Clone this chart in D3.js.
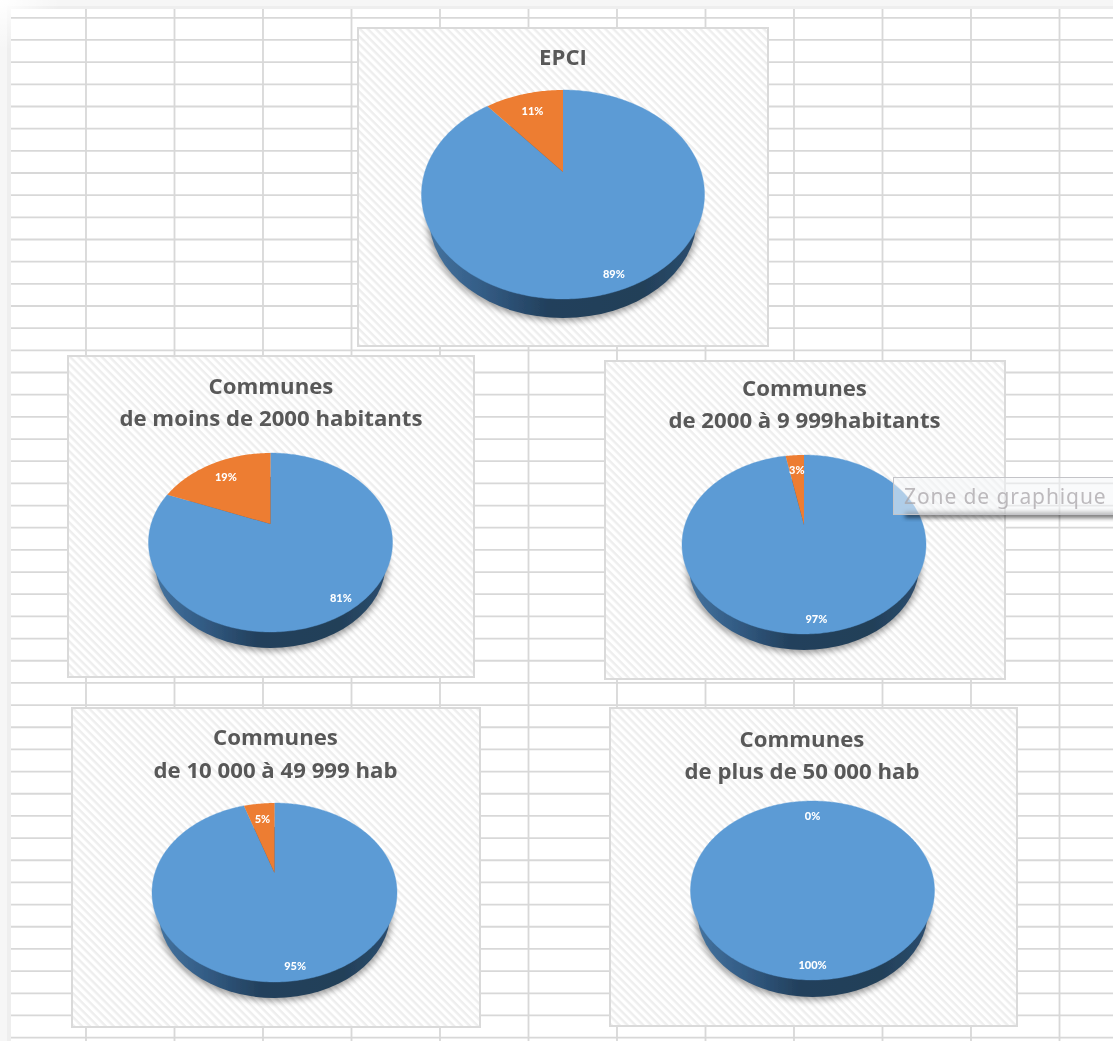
<!DOCTYPE html>
<html><head><meta charset="utf-8">
<style>html,body{margin:0;padding:0;background:#fff}svg{display:block}</style>
<script src="https://cdn.jsdelivr.net/npm/d3@7/dist/d3.min.js"></script>
</head><body><svg id="c" width="1113" height="1041"></svg>
<script>
// ---- data ----
const titles = [["EPCI"],["Communes","de moins de 2000 habitants"],["Communes","de 2000 à 9 999habitants"],["Communes","de 10 000 à 49 999 hab"],["Communes","de plus de 50 000 hab"]];
const blueValues = [89,81,97,95,100];
const orangeValues = [11,19,3,5,0];
const sliceColors = ["#5b9bd5","#ed7d31"];
// ---- layout (box x0,x1,y0,y1; pie cx,rx,top,bottom,apex,depth; title x, baselines) ----
const boxes = [[358,768,28,346],[68,474,356,677],[605,1005,361,679],[72,480,708,1027],[610,1017,708,1026]];
const pies = [[563,141.5,90,299,172,19],[270.5,122,453,632,524,16],[804,122,455,634,525,16],[274.5,122.5,803,982,873,16],[812.5,122,801,980,871,17]];
const titleX = [563,271,804.5,275.5,802];
const titleY = [[65],[393.5,425.5],[395.5,427.5],[744.5,778],[746.5,779]];
const gridColN = 12, gridRowN = 47;

const W=1113,H=1041;
const svg=d3.select("#c");
const defs=svg.append("defs");
const pat=defs.append("pattern").attr("id","hatch").attr("patternUnits","userSpaceOnUse")
  .attr("width",5.6).attr("height",5.6).attr("patternTransform","rotate(45)");
pat.append("rect").attr("width",5.6).attr("height",5.6).attr("fill","#ffffff");
pat.append("rect").attr("width",5.6).attr("height",2.4).attr("fill","#eeeeee");
const wall=defs.append("linearGradient").attr("id","wall");
[[0,"#44739f"],[0.2,"#335c85"],[0.45,"#223f5b"],[0.8,"#234059"],[1,"#2b4d6f"]].forEach(s=>wall.append("stop").attr("offset",s[0]).attr("stop-color",s[1]));
defs.append("filter").attr("id","sh").attr("x","-20%").attr("y","-20%").attr("width","140%").attr("height","140%")
  .append("feGaussianBlur").attr("stdDeviation",3);
defs.append("filter").attr("id","soft").attr("x","0").attr("y","0").attr("width","100%").attr("height","100%")
  .append("feGaussianBlur").attr("stdDeviation",0.6);
defs.append("filter").attr("id","tipsh").attr("x","-5%").attr("y","-60%").attr("width","110%").attr("height","220%")
  .append("feGaussianBlur").attr("stdDeviation",2);
const corner=defs.append("radialGradient").attr("id","corner").attr("cx",0).attr("cy",0).attr("r",1);
corner.append("stop").attr("offset",0).attr("stop-color","#fff");
corner.append("stop").attr("offset",1).attr("stop-color","#fff").attr("stop-opacity",0);

const root=svg.append("g").attr("filter","url(#soft)");
// window chrome
root.append("rect").attr("width",W).attr("height",H).attr("fill","#f6f6f6");
root.append("rect").attr("x",7).attr("y",6).attr("width",W).attr("height",H).attr("fill","#eeeeee");
root.append("rect").attr("x",11).attr("y",9).attr("width",W).attr("height",H).attr("fill","#ffffff");
root.append("rect").attr("width",60).attr("height",50).attr("fill","url(#corner)");

// spreadsheet grid
const xGrid=d3.scaleLinear().domain([0,1]).range([86,174.5]);
const yGrid=d3.scaleLinear().domain([0,1]).range([17.8,39.97]);
const grid=root.append("g").attr("stroke","#d8d8d8").attr("stroke-width",1.8);
grid.selectAll("line.v").data(d3.range(gridColN)).join("line").attr("class","v")
  .attr("x1",d=>xGrid(d)).attr("x2",d=>xGrid(d)).attr("y1",9).attr("y2",H);
grid.selectAll("line.h").data(d3.range(gridRowN)).join("line").attr("class","h")
  .attr("x1",11).attr("x2",W).attr("y1",d=>yGrid(d)).attr("y2",d=>yGrid(d));

const pieGen=d3.pie().sort(null).value(d=>d);
titles.forEach((t,i)=>{
  const b=boxes[i],[cx,rx,top,bottom,apex,depth]=pies[i];
  const g=root.append("g");
  g.append("rect").attr("x",b[0]).attr("y",b[2]).attr("width",b[1]-b[0]).attr("height",b[3]-b[2])
    .attr("fill","url(#hatch)").attr("stroke","#dadada").attr("stroke-width",2);
  g.selectAll("text.t").data(t).join("text").attr("class","t")
    .attr("x",titleX[i]).attr("y",(d,j)=>titleY[i][j]).attr("text-anchor","middle")
    .attr("font-family","Open Sans").attr("font-weight",700).attr("font-size",22.2).attr("fill","#595959").text(d=>d);
  // perspective projection of the unit disc
  const ratio=(bottom-apex)/(apex-top), k=(ratio-1)/(ratio+1);
  const B=(apex-top)*(1+k), A=rx*Math.sqrt(1-k*k);
  const proj=(a,r)=>{const u=r*Math.sin(a),v=-r*Math.cos(a),w=1-k*v;return [cx+A*u/w,apex+B*v/w];};
  const ery=(bottom-top)/2;
  const lrx=rx*0.945, lry=ery*0.955, lcy=bottom+depth-lry;
  g.append("ellipse").attr("cx",cx).attr("cy",lcy+2).attr("rx",lrx+2).attr("ry",lry+1)
    .attr("fill","#000").attr("opacity",.38).attr("filter","url(#sh)");
  g.append("ellipse").attr("cx",cx).attr("cy",lcy).attr("rx",lrx).attr("ry",lry).attr("fill","url(#wall)");
  const arcs=pieGen([blueValues[i],orangeValues[i]]);
  const line=d3.line();
  arcs.forEach((s,j)=>{
    if(s.endAngle-s.startAngle<=0) return;
    const full=s.endAngle-s.startAngle>=2*Math.PI-1e-6;
    const n=Math.max(8,Math.ceil((s.endAngle-s.startAngle)*60));
    const pts=d3.range(n+1).map(q=>proj(s.startAngle+(s.endAngle-s.startAngle)*q/n,1));
    if(!full) pts.push(proj(0,0));
    g.append("path").attr("d",line(pts)+"Z").attr("fill",sliceColors[j])
      .attr("stroke",j===0?sliceColors[j]:"none").attr("stroke-width",.4);
  });
  arcs.forEach((s,j)=>{
    const p=proj((s.startAngle+s.endAngle)/2,j===0?0.89:0.75);
    g.append("text").attr("x",p[0]).attr("y",p[1]+4).attr("text-anchor","middle")
      .attr("font-family","Lato").attr("font-weight",900).attr("font-size",11).attr("fill","#fff")
      .text(s.data+"%");
  });
});

// tooltip
const tip=root.append("g");
tip.append("rect").attr("x",905).attr("y",512).attr("width",220).attr("height",6).attr("fill","#000").attr("opacity",.55).attr("filter","url(#tipsh)");
tip.append("rect").attr("x",893.5).attr("y",477.5).attr("width",240).attr("height",37)
  .attr("fill","#f4f5f8").attr("fill-opacity",.55).attr("stroke","#c4c4c8");
tip.append("text").attr("x",904).attr("y",504).attr("font-family","Noto Sans").attr("font-size",21)
  .attr("letter-spacing",0.9).attr("fill","#a8a4a8").attr("fill-opacity",.75).text("Zone de graphique");
</script></body></html>
